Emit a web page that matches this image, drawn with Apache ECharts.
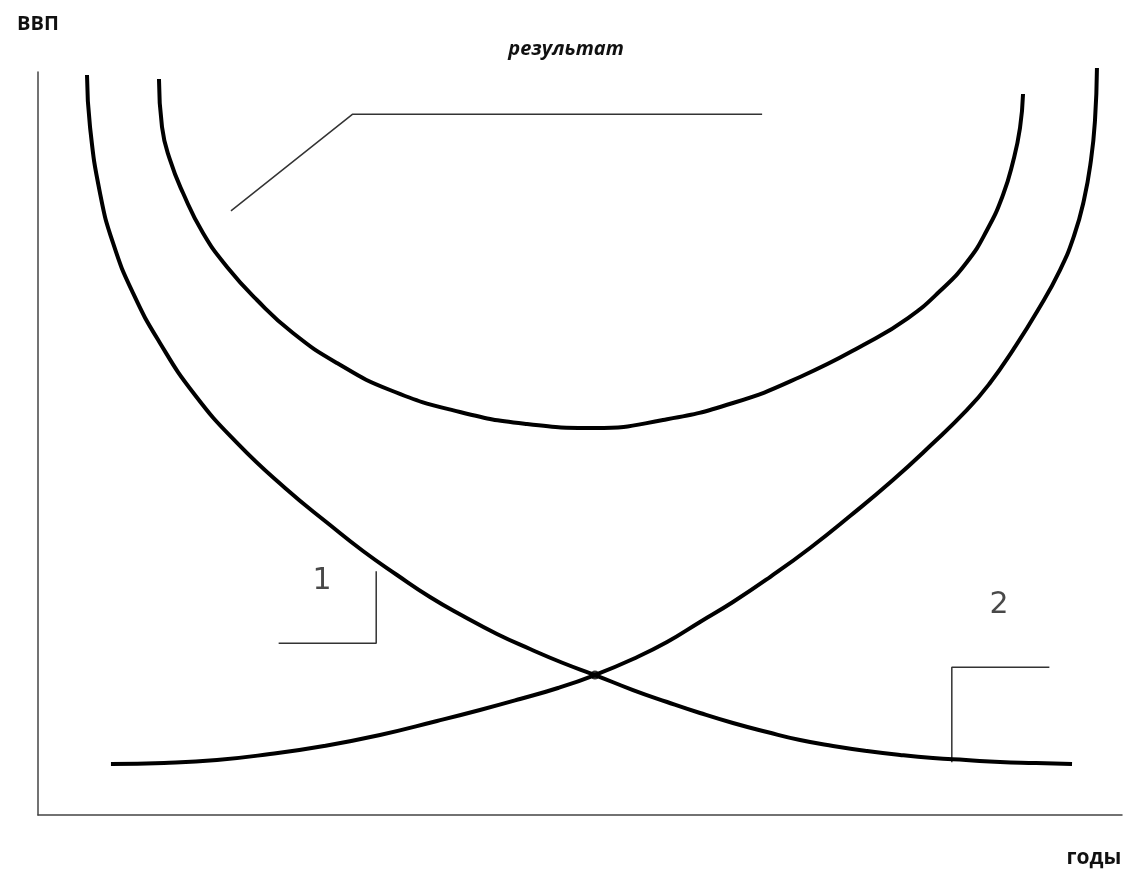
<!DOCTYPE html>
<html>
<head>
<meta charset="utf-8">
<script src="https://cdn.jsdelivr.net/npm/echarts@6/dist/echarts.min.js"></script>
<style>
html,body{margin:0;padding:0;background:#fff;}
#chart{width:1132px;height:877px;}
</style>
</head>
<body>
<div id="chart"></div>
<script>
// Curve 1 (decreasing): [годы, ВВП]
const curve1 = [
  [4.52, 99.60], [4.80, 92.60], [5.72, 83.71], [6.92, 76.99], [8.76, 70.26], [11.25, 63.53],
  [14.48, 56.53], [18.36, 50.07], [22.79, 44.01], [26.94, 39.03], [29.98, 35.53], [33.12, 32.30],
  [36.16, 29.34], [39.21, 26.78], [42.34, 24.36], [45.39, 22.34], [48.43, 20.46], [51.38, 18.84],
  [54.89, 16.82], [58.03, 15.21], [61.07, 13.73], [64.11, 12.38], [67.25, 11.17], [70.30, 10.09],
  [73.34, 9.29], [76.48, 8.61], [79.52, 8.08], [82.56, 7.67], [85.61, 7.40], [88.75, 7.13],
  [92.07, 7.00], [95.39, 6.86]
];
// Curve 2 (increasing)
const curve2 = [
  [6.73, 6.86], [11.62, 7.00], [16.51, 7.40], [21.40, 8.21], [26.38, 9.29], [31.55, 10.77],
  [36.81, 12.65], [40.77, 14.13], [44.47, 15.61], [47.97, 17.09], [51.38, 18.84], [54.89, 21.00],
  [58.03, 23.28], [61.07, 25.98], [64.11, 28.67], [67.53, 32.03], [71.22, 35.94], [74.91, 40.24],
  [78.87, 45.09], [82.29, 49.66], [85.70, 54.51], [87.82, 58.14], [89.94, 62.58], [92.25, 67.97],
  [94.28, 73.35], [95.57, 77.93], [96.49, 82.77], [97.14, 88.16], [97.51, 93.54], [97.69, 100.54]
];
// Result curve (U-shape)
const resultCurve = [
  [11.16, 99.06], [11.44, 92.60], [12.18, 88.16], [13.38, 83.71], [15.22, 78.33], [17.44, 73.76],
  [20.20, 69.31], [23.52, 64.87], [27.58, 60.83], [32.47, 57.20], [38.93, 54.24], [45.11, 52.62],
  [51.38, 52.09], [57.66, 53.16], [64.11, 55.45], [70.30, 58.95], [76.48, 63.53], [80.26, 66.89],
  [83.21, 70.52], [85.70, 74.43], [87.55, 78.73], [89.02, 83.45], [89.94, 87.89], [90.59, 92.46],
  [90.87, 97.04]
];
// Intersection point
const crossPoint = [[51.38, 18.84]];
// Leader lines
const leaderResult = [[17.8, 81.3], [29.0, 94.3], [66.8, 94.3]];
const leader1 = [[22.2, 23.1], [31.2, 23.1], [31.2, 32.8]];
const leader2 = [[84.3, 7.1], [84.3, 19.9], [93.3, 19.9]];
// Curve number labels
const numberLabels = [
  { name: '1', value: [26.2, 31.4] },
  { name: '2', value: [88.65, 28.3] }
];
const titleText = 'результат';
const yName = 'ВВП';
const xName = 'годы';

const chart = echarts.init(document.getElementById('chart'), null, { renderer: 'canvas' });

const curveStyle = { color: '#000', width: 4 };
const leaderStyle = { color: '#333', width: 1.5 };

function curveSeries(data) {
  return {
    type: 'line', data: data, smooth: 0.5, symbol: 'none', clip: false,
    lineStyle: curveStyle, silent: true, animation: false, z: 3
  };
}
function leaderSeries(data) {
  return {
    type: 'line', data: data, smooth: false, symbol: 'none', clip: false,
    lineStyle: leaderStyle, silent: true, animation: false, z: 2
  };
}

chart.setOption({
  backgroundColor: '#fff',
  animation: false,
  title: {
    text: titleText, left: 'center', top: 34,
    textStyle: { fontFamily: 'Open Sans', fontSize: 20, fontWeight: 'bold', fontStyle: 'italic', color: '#111' }
  },
  grid: { left: 38, right: 10, top: 72, bottom: 62 },
  xAxis: {
    type: 'value', min: 0, max: 100,
    name: xName, nameLocation: 'end', nameGap: -28,
    nameTextStyle: { fontFamily: 'Open Sans', fontSize: 21, fontWeight: 'bold', color: '#111',
      align: 'center', verticalAlign: 'top', padding: [33, 0, 0, 0] },
    axisLine: { show: true, onZero: false, lineStyle: { color: '#444', width: 1.5 } },
    axisTick: { show: false }, axisLabel: { show: false }, splitLine: { show: false }
  },
  yAxis: {
    type: 'value', min: 0, max: 100,
    name: yName, nameLocation: 'end', nameGap: 38,
    nameTextStyle: { fontFamily: 'Open Sans', fontSize: 20, fontWeight: 'bold', color: '#111', align: 'center' },
    axisLine: { show: true, onZero: false, lineStyle: { color: '#444', width: 1.5 } },
    axisTick: { show: false }, axisLabel: { show: false }, splitLine: { show: false }
  },
  series: [
    curveSeries(curve1),
    curveSeries(curve2),
    curveSeries(resultCurve),
    leaderSeries(leaderResult),
    leaderSeries(leader1),
    leaderSeries(leader2),
    {
      type: 'scatter', data: crossPoint, symbolSize: 9, itemStyle: { color: '#000' },
      silent: true, z: 4
    },
    {
      type: 'scatter', data: numberLabels, symbolSize: 1, itemStyle: { color: 'rgba(0,0,0,0)' },
      clip: false, silent: true,
      label: { show: true, position: 'inside', formatter: '{b}',
        fontFamily: 'DejaVu Sans', fontSize: 30, color: '#1a1a1a' }
    }
  ]
});
</script>
</body>
</html>
